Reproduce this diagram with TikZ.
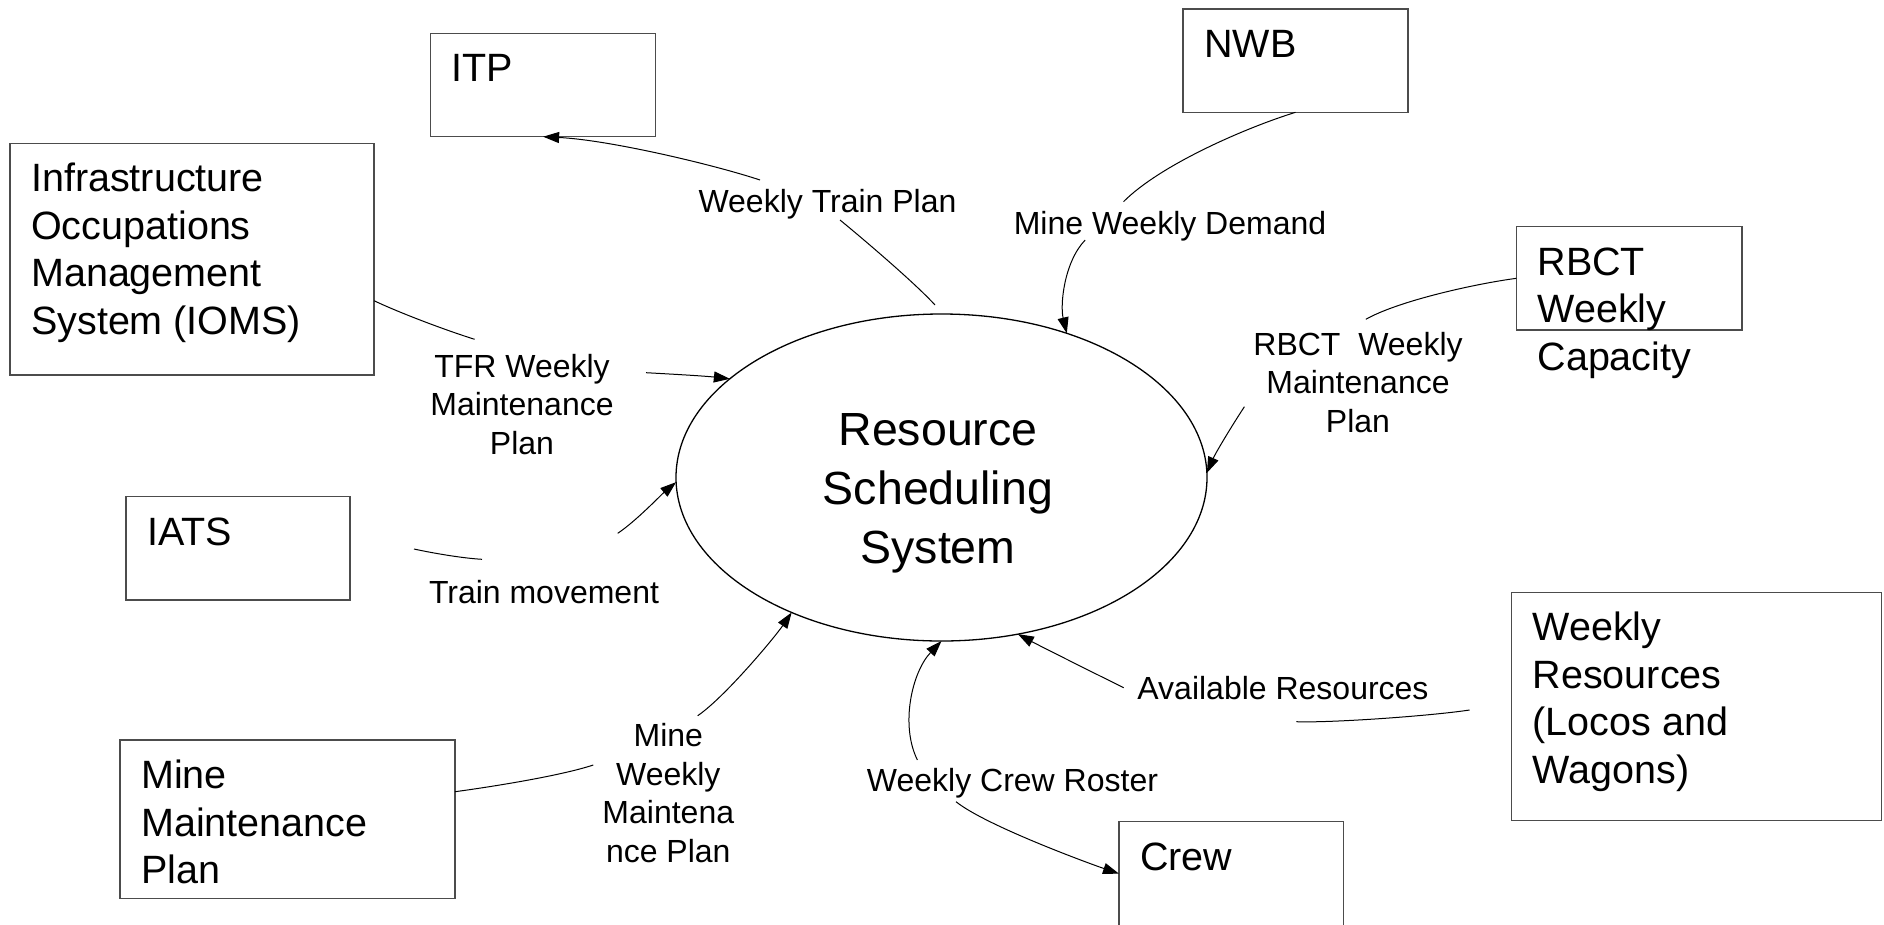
\documentclass[tikz,border=0pt]{standalone}
\usepackage{fontspec}
\setmainfont{Liberation Sans}
\usetikzlibrary{shapes.geometric,arrows.meta,calc}
\tikzset{
  sysbox/.style={draw=black!70, line width=1.5pt, inner sep=0pt, outer sep=0pt, anchor=north west},
  boxtxt/.style={font=\fontsize{39.5}{47.5}\selectfont, align=left, anchor=base west, inner sep=0pt},
  ctext/.style={font=\fontsize{46.5}{59}\selectfont, align=center, anchor=base, inner sep=0pt},
  lbl/.style={font=\fontsize{32}{38.5}\selectfont, align=center, anchor=base, inner sep=0pt},
  flow/.style={draw=black, line width=1pt},
  flowarrow/.style={flow, -{Triangle[length=16pt,width=11pt]}},
}
\begin{document}
\begin{tikzpicture}[x=1pt,y=-1pt]
\useasboundingbox (0,0) rectangle (1884,924);
\fill[white] (0,0) rectangle (1884,924);
\clip (0,0) rectangle (1884,924);

% boxes (multi-line text: base anchor = baseline of last line)
\node[sysbox, minimum width=225pt, minimum height=103.4pt] (itp) at (430.6,33.3) {};
\node[boxtxt] (itpT) at ([shift={(21,48.5)}]itp.north west) {ITP};
\node[sysbox, minimum width=225pt, minimum height=103.3pt] (nwb) at (1183,9) {};
\node[boxtxt] (nwbT) at ([shift={(21,48.5)}]nwb.north west) {NWB};
\node[sysbox, minimum width=364pt, minimum height=231.7pt] (ioms) at (10,143.3) {};
\node[boxtxt] (iomsT) at ([shift={(21,191)}]ioms.north west) {Infrastructure\\Occupations\\Management\\System (IOMS)};
\node[sysbox, minimum width=225.5pt, minimum height=103.3pt] (rbct) at (1516.3,226.7) {};
\node[boxtxt] (rbctT) at ([shift={(21,143.5)}]rbct.north west) {RBCT\\Weekly\\Capacity};
\node[sysbox, minimum width=224pt, minimum height=103.3pt] (iats) at (126,496.7) {};
\node[boxtxt] (iatsT) at ([shift={(21,48.5)}]iats.north west) {IATS};
\node[sysbox, minimum width=370.2pt, minimum height=228.4pt] (wres) at (1511.5,592.3) {};
\node[boxtxt] (wresT) at ([shift={(21,191)}]wres.north west) {Weekly\\Resources\\(Locos and\\Wagons)};
\node[sysbox, minimum width=335pt, minimum height=158.3pt] (mmp) at (120,740) {};
\node[boxtxt] (mmpT) at ([shift={(21,143.5)}]mmp.north west) {Mine\\Maintenance\\Plan};
\node[sysbox, minimum width=224.5pt, minimum height=104pt] (crew) at (1119,821.7) {};
\node[boxtxt] (crewT) at ([shift={(21,48.5)}]crew.north west) {Crew};

% central process
\node[ellipse, draw=black, line width=1.3pt, minimum width=531pt, minimum height=327pt, inner sep=0pt, outer sep=0pt] (rss) at (941.5,477.5) {};
\node[ctext] (rssT) at (938,563) {Resource\\Scheduling\\System};

% labels
\node[lbl] (lWTP) at (827.5,212.7) {Weekly Train Plan};
\node[lbl] (lMWD) at (1170,234) {Mine Weekly Demand};
\node[lbl] (lRB) at (1358,432) {RBCT\ \ Weekly\\Maintenance\\Plan};
\node[lbl] (lTFR) at (522,454) {TFR Weekly\\Maintenance\\Plan};
\node[lbl] (lTM) at (544,603.3) {Train movement};
\node[lbl] (lMW) at (668.3,862.2) {Mine\\Weekly\\Maintena\\nce Plan};
\node[lbl] (lWC) at (1012.5,791.7) {Weekly Crew Roster};
\node[lbl] (lAR) at (1283,699.3) {Available Resources};

% free ends of connectors
\coordinate (wtpA) at (935,305);
\coordinate (wtpB) at (840,220);
\coordinate (wtpC) at (760,180);
\coordinate (mwdA) at (1123.5,201.7);
\coordinate (mwdB) at (1085.2,240);
\coordinate (rbA) at (1365.8,319.3);
\coordinate (rbB) at (1244.4,406.7);
\coordinate (tfrS) at ([shift={(0,157.4)}]ioms.north east);
\coordinate (tfrA) at (474.6,339.3);
\coordinate (tfrB) at (646,372.7);
\coordinate (tmA) at (414,549);
\coordinate (tmB) at (482,559.3);
\coordinate (tmC) at (617.7,533.3);
\coordinate (mwS) at ([shift={(0,51.7)}]mmp.north east);
\coordinate (mwA) at (593.3,765);
\coordinate (mwB) at (697.7,715.7);
\coordinate (wcA) at (917.4,760);
\coordinate (wcB) at (956,801.7);
\coordinate (arA) at (1123.7,687.7);
\coordinate (arB) at (1296.4,721.7);
\coordinate (arC) at (1469.6,710);

% connectors
\draw[flow] (wtpA) .. controls (915,283) and (862,238) .. (wtpB);
\draw[flowarrow] (wtpC) .. controls (715,165) and (610,140) .. (itp.south);

\draw[flow] (nwb.south) .. controls (1245,128) and (1160,165) .. (mwdA);
\draw[flowarrow] (mwdB) .. controls (1064,262) and (1060,305) .. (rss.49);

\draw[flow] (rbct.west) .. controls (1480,283) and (1400,300) .. (rbA);
\draw[flowarrow] (rbB) .. controls (1233,424) and (1216,452) .. (rss.1);

\draw[flow] (tfrS) .. controls (400,313) and (445,330) .. (tfrA);
\draw[flowarrow] (tfrB) .. controls (670,374) and (705,376) .. (rss.155);

\draw[flow] (tmA) .. controls (430,552.5) and (460,558) .. (tmB);
\draw[flowarrow] (tmC) .. controls (635,522) and (662,494) .. (rss.181);

\draw[flow] (mwS) .. controls (490,787) and (560,776) .. (mwA);
\draw[flowarrow] (mwB) .. controls (725,697) and (775,637) .. (rss.222);

\draw[flowarrow] (wcA) .. controls (900,725) and (912,672) .. (rss.270);
\draw[flowarrow] (wcB) .. controls (985,825) and (1085,862) .. (crew.west);

\draw[flowarrow] (arA) .. controls (1100,676) and (1040,646) .. (rss.296);
\draw[flow] (arB) .. controls (1330,723) and (1430,716) .. (arC);
\end{tikzpicture}
\end{document}
